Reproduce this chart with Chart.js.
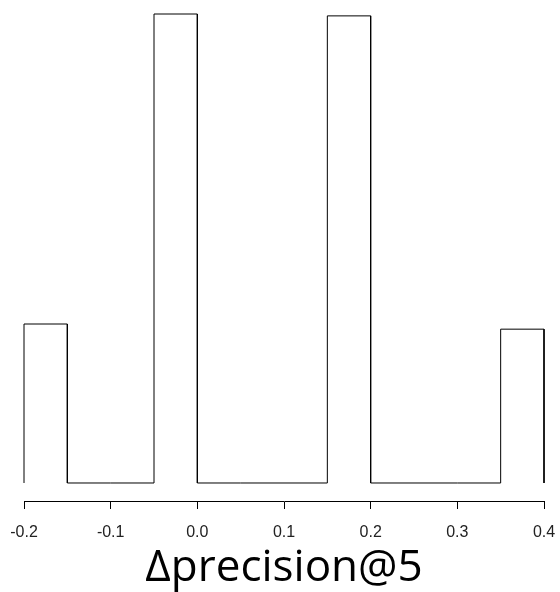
<!DOCTYPE html>
<html>
<head>
<meta charset="utf-8">
<script src="https://cdn.jsdelivr.net/npm/chart.js@4/dist/chart.umd.min.js"></script>
<style>
  html, body { margin: 0; padding: 0; background: #fff; }
  canvas { display: block; }
</style>
</head>
<body>
<canvas id="hist" width="560" height="592"></canvas>
<script>
// Histogram bin edges (width 0.05) and bar heights
const binEdges = [-0.2, -0.15, -0.1, -0.05, 0.0, 0.05, 0.1, 0.15, 0.2, 0.25, 0.3, 0.35, 0.4];
const binHeights = [3.39, 0, 0, 10, 0, 0, 0, 9.96, 0, 0, 0, 3.28];
const xTicks = [-0.2, -0.1, 0.0, 0.1, 0.2, 0.3, 0.4];
const xTitle = 'Δprecision@5';

// Outline of every bar, traced left to right along the baseline
const outline = [];
for (let i = 0; i < binHeights.length; i++) {
  const l = binEdges[i], r = binEdges[i + 1], h = binHeights[i];
  outline.push({ x: l, y: 0 }, { x: l, y: h }, { x: r, y: h }, { x: r, y: 0 });
}

const yMax = Math.max(...binHeights);

new Chart(document.getElementById('hist'), {
  type: 'line',
  data: {
    datasets: [{
      data: outline,
      borderColor: '#000',
      borderWidth: 1,
      pointRadius: 0,
      tension: 0,
      fill: false,
      clip: false,
      borderJoinStyle: 'miter'
    }]
  },
  options: {
    responsive: false,
    devicePixelRatio: 1,
    animation: false,
    layout: { padding: { left: 24, right: 16, top: 14, bottom: 0 } },
    plugins: { legend: { display: false }, tooltip: { enabled: false } },
    scales: {
      x: {
        type: 'linear',
        min: binEdges[0],
        max: binEdges[binEdges.length - 1],
        afterBuildTicks: (scale) => { scale.ticks = xTicks.map(v => ({ value: v })); },
        afterFit: (scale) => {
          scale.height = 91;
          scale.paddingLeft = 0;
          scale.paddingRight = 0;
        },
        ticks: {
          callback: (v) => Number(v).toFixed(1),
          font: { family: 'Liberation Sans', size: 16 },
          color: '#222',
          padding: 14,
          maxRotation: 0,
          autoSkip: false
        },
        grid: {
          display: true,
          drawOnChartArea: false,
          drawTicks: true,
          tickLength: 8,
          color: '#000',
          lineWidth: 1
        },
        border: { display: true, color: '#000', width: 1 },
        title: {
          display: true,
          text: xTitle,
          font: { family: 'Open Sans', size: 44, lineHeight: 1.06 },
          color: '#000',
          padding: { top: 0, bottom: 0 }
        }
      },
      y: {
        display: false,
        min: -0.384 * yMax / 10,
        max: yMax
      }
    }
  }
});
</script>
</body>
</html>
